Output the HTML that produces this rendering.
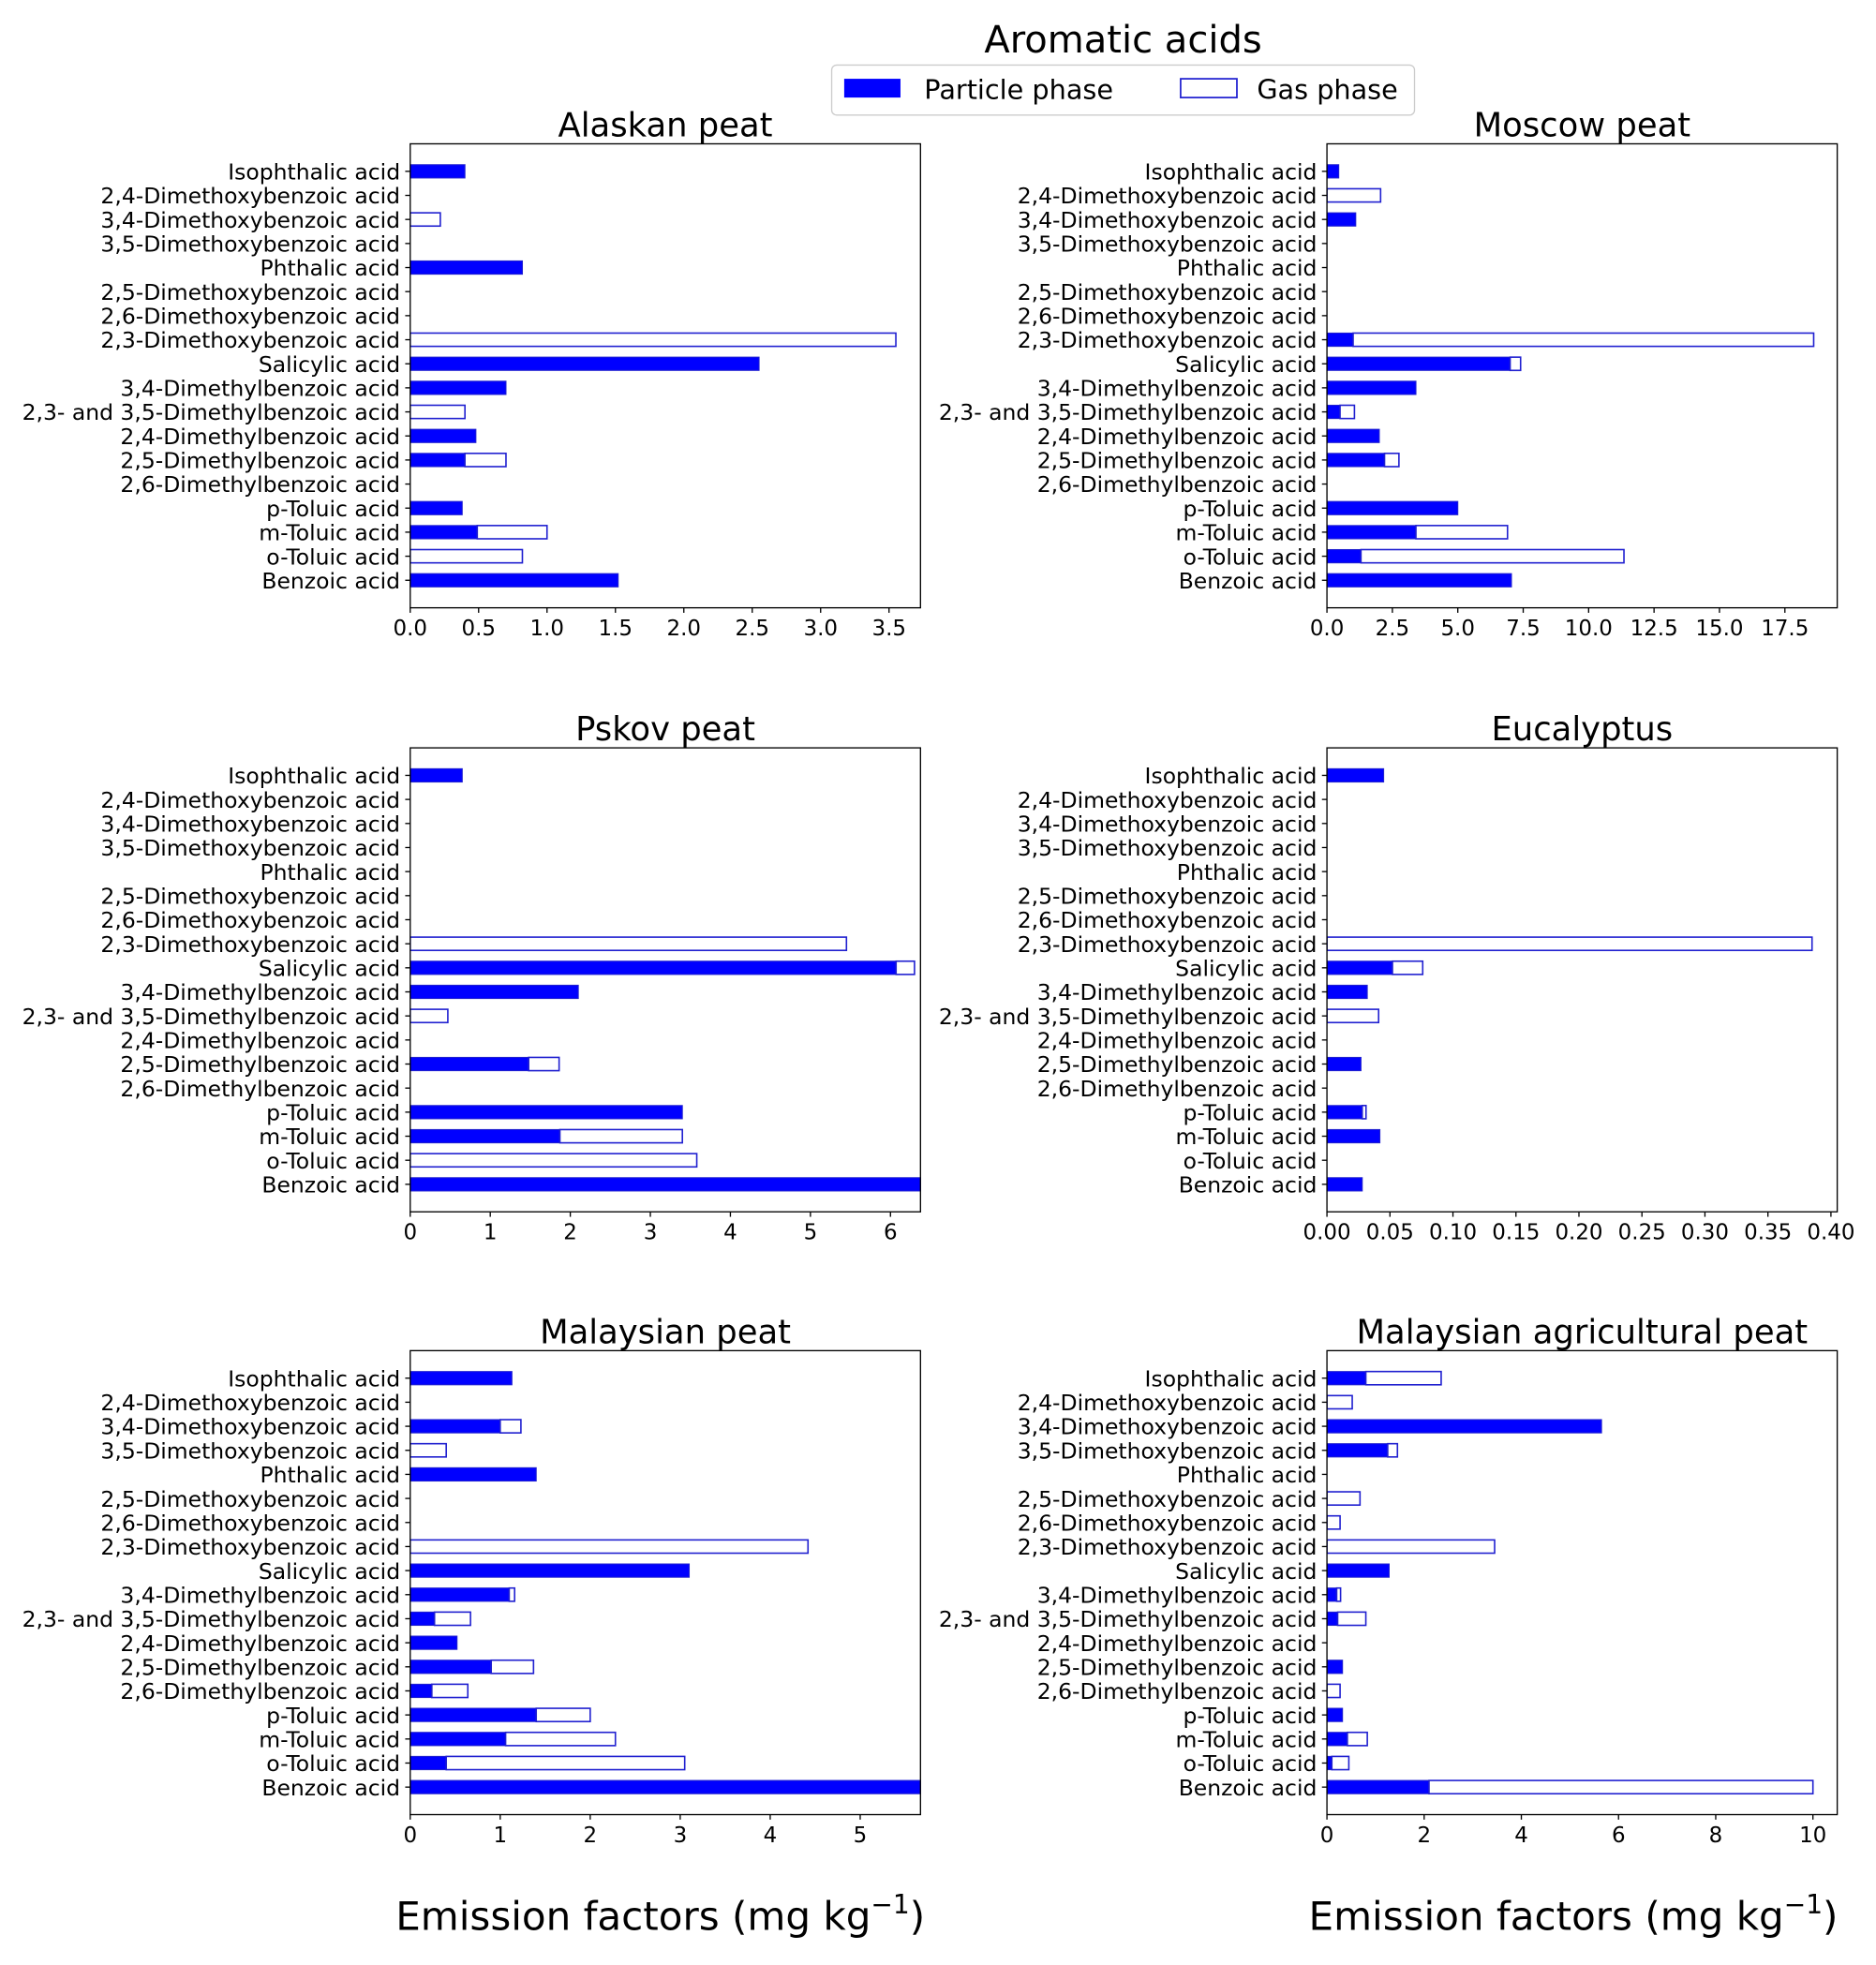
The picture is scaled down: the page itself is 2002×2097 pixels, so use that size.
<!DOCTYPE html>
<html><head><meta charset="utf-8"><style>
html,body{margin:0;padding:0;background:#fff;}
svg{display:block;}
text{font-family:"DejaVu Sans","Liberation Sans",sans-serif;fill:#000;}
</style></head><body>
<svg id="fig" width="2002" height="2097" viewBox="0 0 1500 1571.25" preserveAspectRatio="none" xmlns="http://www.w3.org/2000/svg">
<text x="898" y="42" font-size="30" text-anchor="middle">Aromatic acids</text>
<g>
<rect x="665" y="52" width="466" height="40" rx="4" fill="#fff" stroke="#ccc" stroke-width="1"/>
<rect x="675" y="63" width="45" height="15" fill="#0000ff"/>
<text x="739" y="79" font-size="21.5">Particle phase</text>
<rect x="944" y="63" width="45" height="15" fill="#fff" stroke="#2020d0" stroke-width="1.3"/>
<text x="1005" y="79" font-size="21.5">Gas phase</text>
</g>
<text x="528" y="1543" font-size="31.5" text-anchor="middle">Emission factors (mg kg<tspan font-size="21" dy="-13">−1</tspan><tspan dy="13">)</tspan></text>
<text x="1258" y="1543" font-size="31.5" text-anchor="middle">Emission factors (mg kg<tspan font-size="21" dy="-13">−1</tspan><tspan dy="13">)</tspan></text>
</svg>
<script>
const categories = ["Isophthalic acid","2,4-Dimethoxybenzoic acid","3,4-Dimethoxybenzoic acid","3,5-Dimethoxybenzoic acid","Phthalic acid","2,5-Dimethoxybenzoic acid","2,6-Dimethoxybenzoic acid","2,3-Dimethoxybenzoic acid","Salicylic acid","3,4-Dimethylbenzoic acid","2,3- and 3,5-Dimethylbenzoic acid","2,4-Dimethylbenzoic acid","2,5-Dimethylbenzoic acid","2,6-Dimethylbenzoic acid","p-Toluic acid","m-Toluic acid","o-Toluic acid","Benzoic acid"];
const panelTitles = ["Alaskan peat","Moscow peat","Pskov peat","Eucalyptus","Malaysian peat","Malaysian agricultural peat"];
const alaskanParticle = [0.4,0,0,0,0.82,0,0,0,2.55,0.7,0,0.48,0.4,0,0.38,0.49,0,1.52];
const alaskanGas      = [0,0,0.22,0,0,0,0,3.55,0,0,0.4,0,0.3,0,0,0.51,0.82,0];
const moscowParticle  = [0.45,0,1.1,0,0,0,0,1.0,7.0,3.4,0.5,2.0,2.2,0,5.0,3.4,1.3,7.05];
const moscowGas       = [0,2.05,0,0,0,0,0,17.6,0.4,0,0.55,0,0.55,0,0,3.5,10.05,0];
const pskovParticle   = [0.65,0,0,0,0,0,0,0,6.07,2.1,0,0,1.48,0,3.4,1.87,0,6.5];
const pskovGas        = [0,0,0,0,0,0,0,5.45,0.23,0,0.47,0,0.38,0,0,1.53,3.58,0];
const eucaParticle    = [0.045,0,0,0,0,0,0,0,0.052,0.032,0,0,0.027,0,0.028,0.042,0,0.028];
const eucaGas         = [0,0,0,0,0,0,0,0.385,0.024,0,0.041,0,0,0,0.003,0,0,0];
const malayParticle   = [1.13,0,1.0,0,1.4,0,0,0,3.1,1.1,0.27,0.52,0.9,0.24,1.4,1.06,0.4,5.8];
const malayGas        = [0,0,0.23,0.4,0,0,0,4.42,0,0.06,0.4,0,0.47,0.4,0.6,1.22,2.65,0];
const malagParticle   = [0.8,0,5.65,1.25,0,0,0,0,1.28,0.2,0.22,0,0.32,0,0.32,0.42,0.1,2.1];
const malagGas        = [1.55,0.52,0,0.2,0,0.68,0.27,3.45,0,0.08,0.58,0,0,0.27,0,0.41,0.35,7.9];
const tickAlaskan = ["0.0","0.5","1.0","1.5","2.0","2.5","3.0","3.5"];
const tickMoscow  = ["0.0","2.5","5.0","7.5","10.0","12.5","15.0","17.5"];
const tickPskov   = ["0","1","2","3","4","5","6"];
const tickEuca    = ["0.00","0.05","0.10","0.15","0.20","0.25","0.30","0.35","0.40"];
const tickMalay   = ["0","1","2","3","4","5"];
const tickMalag   = ["0","2","4","6","8","10"];
const xMaxes = [3.73,19.5,6.375,0.405,5.67,10.5];

const panels = [
 {p:alaskanParticle,g:alaskanGas,t:tickAlaskan,x0:328,y0:115},
 {p:moscowParticle,g:moscowGas,t:tickMoscow,x0:1061,y0:115},
 {p:pskovParticle,g:pskovGas,t:tickPskov,x0:328,y0:598},
 {p:eucaParticle,g:eucaGas,t:tickEuca,x0:1061,y0:598},
 {p:malayParticle,g:malayGas,t:tickMalay,x0:328,y0:1080},
 {p:malagParticle,g:malagGas,t:tickMalag,x0:1061,y0:1080}
];
const NS="http://www.w3.org/2000/svg";
const svg=document.getElementById('fig');
function mk(tag,attrs,parent){const e=document.createElementNS(NS,tag);for(const k in attrs)e.setAttribute(k,attrs[k]);parent.appendChild(e);return e;}
const W=408,H=371;
panels.forEach((pn,i)=>{
  const g=mk('g',{},svg);
  
  
  const xmax=xMaxes[i];
  const xs=v=>pn.x0+v/xmax*W;
  const rowTop=pn.y0+22, step=(371-44)/(categories.length-1);
  const ys=k=>rowTop+k*step;
  const bh=10.6;
  const clip=mk('clipPath',{id:'c'+i},g);
  mk('rect',{x:pn.x0,y:pn.y0,width:W,height:H},clip);
  const title=mk('text',{x:pn.x0+W/2,y:pn.y0-6,'font-size':26.5,'text-anchor':'middle'},g);
  title.textContent=panelTitles[i];
  
  
  const bars=mk('g',{'clip-path':'url(#c'+i+')'},g);
  categories.forEach((c,k)=>{
    const y=ys(k);
    if(pn.p[k]>0){
      const r=mk('rect',{x:xs(0),y:y-bh/2,width:xs(pn.p[k])-xs(0),height:bh,fill:'#0000ff',stroke:'#2020d0','stroke-width':0.8},bars);
      
      
    }
    if(pn.g[k]>0){
      const r=mk('rect',{x:xs(pn.p[k]),y:y-bh/2,width:xs(pn.p[k]+pn.g[k])-xs(pn.p[k]),height:bh,fill:'#fff',stroke:'#2020d0','stroke-width':1.2},bars);
      
      
    }
    mk('line',{x1:pn.x0-4,x2:pn.x0,y1:y,y2:y,stroke:'#000','stroke-width':1},g);
    const lt=mk('text',{x:pn.x0-8,y:y+6.5,'font-size':17.6,'text-anchor':'end'},g);
    lt.textContent=c;
    
    
  });
  mk('rect',{x:pn.x0,y:pn.y0,width:W,height:H,fill:'none',stroke:'#000','stroke-width':1},g);
  pn.t.forEach(lbl=>{
    const x=xs(parseFloat(lbl));
    mk('line',{x1:x,x2:x,y1:pn.y0+H,y2:pn.y0+H+4,stroke:'#000','stroke-width':1},g);
    const tt=mk('text',{x:x,y:pn.y0+H+22,'font-size':17.2,'text-anchor':'middle'},g);
    tt.textContent=lbl;
    
    
  });
});
</script>
</body></html>
